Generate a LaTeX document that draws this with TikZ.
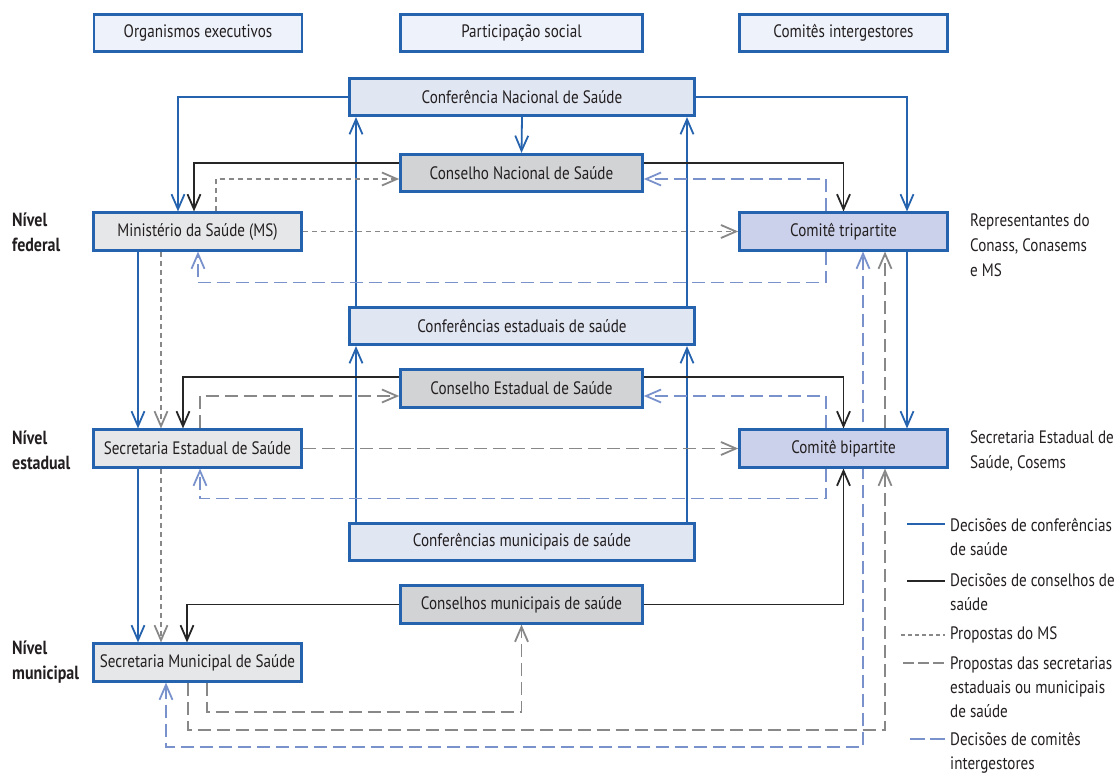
\documentclass[tikz,border=0pt]{standalone}
\usepackage{fontspec}
\setmainfont{PT Sans}[FakeStretch=0.84]
\usetikzlibrary{arrows.meta}
\pgfdeclarelayer{bg}
\pgfsetlayers{bg,main}

\definecolor{frame}{HTML}{2563AE}
\definecolor{ink}{HTML}{231F20}
\definecolor{hdrfill}{HTML}{EEF2FA}
\definecolor{conffill}{HTML}{E1E6F3}
\definecolor{cnslfill}{HTML}{D2D3D5}
\definecolor{govfill}{HTML}{E6E7E8}
\definecolor{comfill}{HTML}{CBD1EA}
\definecolor{lineblue}{HTML}{2563AE}
\definecolor{lineblack}{HTML}{262626}
\definecolor{linegray}{HTML}{888888}
\definecolor{linelav}{HTML}{7A92CC}

\tikzset{
  box/.style={draw=frame, line width=2.6pt, minimum height=37.5pt, inner sep=0pt, text=ink},
  small/.style={box, minimum width=208pt},
  mid/.style={box, minimum width=242pt},
  wide/.style={box, minimum width=345pt},
  hdr/.style={fill=hdrfill},
  conf/.style={fill=conffill},
  cnsl/.style={fill=cnslfill},
  gov/.style={fill=govfill},
  com/.style={fill=comfill},
  barb/.tip={Straight Barb[length=15pt,width=13pt]},
  tiphead/.style={-barb},
  conn/.style={line width=1.8pt},
  bl/.style={conn, draw=lineblue},
  bk/.style={conn, draw=lineblack},
  ms/.style={conn, draw=linegray, dash pattern=on 5pt off 4pt},
  sec/.style={conn, draw=linegray, dash pattern=on 13pt off 6pt},
  ci/.style={conn, draw=linelav, dash pattern=on 13pt off 6pt},
  lvl/.style={anchor=west, align=left, inner sep=0pt, text=ink, font=\bfseries\fontsize{19}{25}\selectfont},
  note/.style={anchor=west, align=left, inner sep=0pt, text=ink, font=\fontsize{18}{25}\selectfont},
  legtext/.style={anchor=west, align=left, inner sep=0pt, text=ink, font=\fontsize{18}{24}\selectfont},
}

\begin{document}
\begin{tikzpicture}[x=1pt, y=-1pt, font=\fontsize{18}{24}\selectfont]
\useasboundingbox (0,0) rectangle (1115,778);

% column headings
\node[small,hdr] (hexe) at (198,33) {Organismos executivos};
\node[mid,hdr]   (hpar) at (521.5,33) {Participação social};
\node[small,hdr] (hcom) at (843.5,33) {Comitês intergestores};

% boxes, federal level
\node[wide,conf] (fnac) at (522,97) {Conferência Nacional de Saúde};
\node[mid,cnsl]  (knac) at (521.5,173) {Conselho Nacional de Saúde};
\node[small,gov] (gmin) at (197.5,231.5) {Ministério da Saúde (MS)};
\node[small,com] (tri)  at (843.5,231.5) {Comitê tripartite};

% boxes, state level
\node[wide,conf] (fest) at (522,326) {Conferências estaduais de saúde};
\node[mid,cnsl]  (kest) at (521.5,388.5) {Conselho Estadual de Saúde};
\node[small,gov] (gest) at (197.5,448.5) {Secretaria Estadual de Saúde};
\node[small,com] (bi)   at (843.5,448.5) {Comitê bipartite};

% boxes, municipal level
\node[wide,conf] (fmun) at (522,542) {Conferências municipais de saúde};
\node[mid,cnsl]  (kmun) at (521.5,604.5) {Conselhos municipais de saúde};
\node[small,gov] (gmun) at (197.5,662.5) {Secretaria Municipal de Saúde};

% level labels
\node[lvl] (lfed) at (12,232.5) {Nível\\federal};
\node[lvl] (lest) at (12,450) {Nível\\estadual};
\node[lvl] (lmun) at (12,662.5) {Nível\\municipal};

% committee composition
\node[note] (ntri) at (970,245) {Representantes do\\Conass, Conasems\\e MS};
\node[note] (nbi)  at (970,450.5) {Secretaria Estadual de\\Saúde, Cosems};

% legend
\node[legtext] (leg1) at (950,537) {Decisões de conferências\\de saúde};
\node[legtext] (leg2) at (950,592.5) {Decisões de conselhos de\\saúde};
\node[legtext] (leg3) at (950,635) {Propostas do MS};
\node[legtext] (leg4) at (950,687.5) {Propostas das secretarias\\estaduais ou municipais\\de saúde};
\node[legtext] (leg5) at (950,753) {Decisões de comitês\\intergestores};
\coordinate (k1a) at (907,524); \coordinate (k1b) at (945,524);
\coordinate (k2a) at (907,581); \coordinate (k2b) at (945,581);
\coordinate (k3a) at (901,635); \coordinate (k3b) at (945,635);
\coordinate (k4a) at (903,663); \coordinate (k4b) at (945,663);
\coordinate (k5a) at (910,739); \coordinate (k5b) at (945,739);
\draw[bl]  (k1a) -- (k1b);
\draw[bk]  (k2a) -- (k2b);
\draw[ms, dash pattern=on 4pt off 3pt]  (k3a) -- (k3b);
\draw[sec, dash pattern=on 11pt off 4pt] (k4a) -- (k4b);
\draw[ci, dash pattern=on 15pt off 5pt]  (k5a) -- (k5b);

\begin{pgfonlayer}{bg}
% decisions of health conferences
\draw[bl,tiphead] (fnac.west) -| ([xshift=-19.5pt]gmin.north);
\draw[bl,tiphead] (fnac.east) -| ([xshift=63.5pt]tri.north);
\draw[bl,tiphead] (fnac.south) -- (knac.north);
\draw[bl,tiphead] ([xshift=-166pt]fest.north) -- ([xshift=-166pt]fnac.south);
\draw[bl,tiphead] ([xshift=165pt]fest.north) -- ([xshift=165pt]fnac.south);
\draw[bl,tiphead] ([xshift=-166pt]fmun.north) -- ([xshift=-166pt]fest.south);
\draw[bl,tiphead] ([xshift=165pt]fmun.north) -- ([xshift=165pt]fest.south);
\draw[bl,tiphead] ([xshift=-59.5pt]gmin.south) -- ([xshift=-59.5pt]gest.north);
\draw[bl,tiphead] ([xshift=-59.5pt]gest.south) -- ([xshift=-59.5pt]gmun.north);
\draw[bl,tiphead] ([xshift=63.5pt]tri.south) -- ([xshift=63.5pt]bi.north);

% decisions of health councils
\draw[bk,tiphead] ([yshift=10pt]knac.west) -| ([xshift=-3.5pt]gmin.north);
\draw[bk,tiphead] ([yshift=10pt]knac.east) -| (tri.north);
\draw[bk,tiphead] ([yshift=11.5pt]kest.west) -| ([xshift=-14.5pt]gest.north);
\draw[bk,tiphead] ([yshift=11.5pt]kest.east) -| (bi.north);
\draw[bk,tiphead] (kmun.west) -| ([xshift=-10.5pt]gmun.north);
\draw[bk,tiphead] (kmun.east) -| (bi.south);

% proposals of the ministry
\draw[ms,tiphead] ([xshift=18.5pt]gmin.north) |- ([yshift=-6pt]knac.west);
\draw[ms,tiphead] (gmin.east) -- (tri.west);
\draw[ms,tiphead] ([xshift=-36.5pt]gmin.south) -- ([xshift=-36.5pt]gest.north);
\draw[ms,tiphead] ([xshift=-36.5pt]gest.south) -- ([xshift=-36.5pt]gmun.north);

% proposals of state and municipal secretariats
\draw[sec,tiphead] ([xshift=2.5pt]gest.north) |- ([yshift=-7.5pt]kest.west);
\draw[sec,tiphead] (gest.east) -- (bi.west);
\draw[sec,tiphead] ([xshift=9.5pt]gmun.south) -- ++(0,29.5) -| (kmun.south);
\draw[sec,tiphead] ([xshift=-9.5pt]gmun.south) -- ++(0,47.5) -| ([xshift=41.5pt]bi.south);
\draw[sec,tiphead] ([xshift=41.5pt]bi.north) -- ([xshift=41.5pt]tri.south);

% decisions of intermanager committees
\draw[ci,tiphead] ([xshift=-17.5pt]tri.north) |- ([yshift=-6pt]knac.east);
\draw[ci,tiphead] ([xshift=-17.5pt]tri.south) -- ++(0,31) -| ([xshift=0.5pt]gmin.south);
\draw[ci,tiphead] ([xshift=-17.5pt]bi.north) |- ([yshift=-7.5pt]kest.east);
\draw[ci,tiphead] ([xshift=-17.5pt]bi.south) -- ++(0,30) -| ([xshift=2.5pt]gest.south);
\draw[ci,barb-barb]
  ([xshift=-31.5pt]gmun.south) -- ++(0,64.5) -| ([xshift=19.5pt]tri.south);
\end{pgfonlayer}
\end{tikzpicture}
\end{document}
